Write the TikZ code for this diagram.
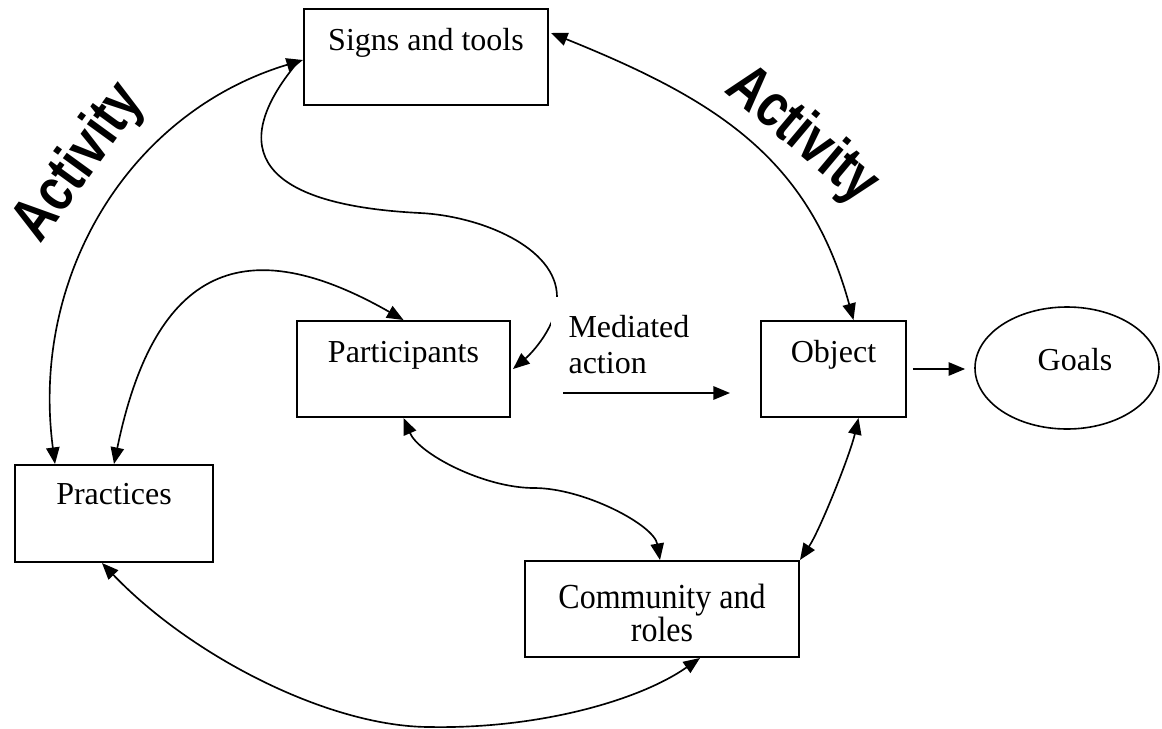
\documentclass[tikz,border=0pt]{standalone}
\usepackage{fontspec}
\setmainfont{Liberation Serif}
\newfontfamily\actfont{Liberation Sans}
\usetikzlibrary{arrows.meta,shapes.geometric}

\begin{document}
\begin{tikzpicture}[x=0.375pt,y=-0.375pt,
  every node/.style={font=\fontsize{12}{13.5}\selectfont},
  box/.style={draw, line width=0.75pt, inner sep=0pt, text height=15.4pt, text depth=20.6pt},
  link/.style={line width=0.62pt, {Triangle[length=6.2pt,width=5pt]}-{Triangle[length=6.2pt,width=5pt]}},
  oneway/.style={line width=0.62pt, -{Triangle[length=6.2pt,width=5pt]}},
  act/.style={font=\actfont\bfseries\fontsize{23}{26}\selectfont, inner sep=0pt}
]
\useasboundingbox (0,0) rectangle (1162,728);

% boxes of the activity system
\node[box, minimum width=91.5pt, minimum height=36pt] (signs) at (426,57) {Signs and tools};
\node[box, minimum width=79.9pt, minimum height=36pt] (part) at (403.5,369) {Participants};
\node[box, minimum width=54.4pt, minimum height=36pt] (obj) at (833.5,369) {Object};
\node[box, minimum width=74.25pt, minimum height=36.4pt, text height=15pt, text depth=21.4pt] (prac) at (114,513.5) {Practices};
\node[draw, line width=0.75pt, minimum width=102.75pt, minimum height=36pt] (comm) at (662,609) {};
\node[align=center, inner sep=0pt, anchor=north, font=\fontsize{12}{13.5}\selectfont] (commtext) at (662,584) {\scalebox{1}[1.1]{Community and}\\[-1.2pt]\scalebox{1}[1.1]{roles}};
\node[draw, ellipse, line width=0.6pt, minimum width=69pt, minimum height=45.75pt, inner sep=0pt, text height=8pt, text depth=6.5pt] (goals) at (1067,368) {\hspace*{6pt}Goals};

% outer activity cycle
\draw[link] ([shift={(-59,0)}]prac.north) .. controls (30,275) and (130,112) .. ([shift={(0,3)}]signs.west);
\draw[link] ([shift={(2,-24)}]signs.east) .. controls (717,100) and (809,158) .. ([shift={(20,0)}]obj.north);
\draw[link] ([shift={(25,0)}]obj.south) .. controls (850,455) and (820,530) .. (comm.north east);
\draw[link] ([shift={(-12,0)}]prac.south) .. controls (192,657) and (330,727) .. (430,727)
  .. controls (540,729) and (640,700) .. ([shift={(38,0)}]comm.south);

% inner links
\draw[link] (prac.north) .. controls (155,265) and (246,230) .. (part.north);
\draw[link] (part.south) .. controls (419,454) and (484,488) .. (534,488)
  .. controls (584,488) and (654,525) .. ([shift={(-2,0)}]comm.north);

% mediation by signs and tools
\draw[oneway] ([shift={(-6,6)}]signs.west) .. controls (225,150) and (260,205) .. (420,213)
  .. controls (480,216) and (557,247) .. (557,297)
  .. controls (558,325) and (532,353) .. ([shift={(2,0)}]part.east);

\node[fill=white, align=left, anchor=north west, inner xsep=6.75pt, inner ysep=7pt] (med) at (550,296) {Mediated\\action};
\coordinate (ma0) at (563,393);
\coordinate (ma1) at (730,393);
\draw[oneway] (ma0) -- (ma1);

\draw[oneway, shorten <=2.2pt, shorten >=3.4pt] (obj.east) -- (obj.east -| goals.west);

% rotated labels
\node[act, rotate=54] (act1) at (80,163) {\scalebox{0.8}[1]{Activity}};
\node[act, rotate=-40] (act2) at (802,136) {\scalebox{0.8}[1]{Activity}};
\end{tikzpicture}
\end{document}
